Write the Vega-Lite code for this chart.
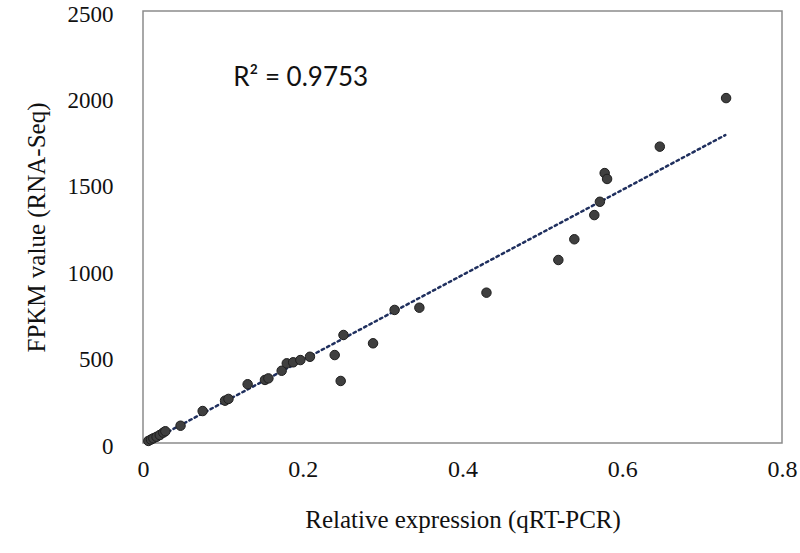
{
  "$schema": "https://vega.github.io/schema/vega-lite/v6.json",
  "width": 639,
  "height": 432,
  "autosize": "none",
  "padding": {"left": 143, "top": 11, "right": 18, "bottom": 110},
  "background": "white",
  "config": {
    "font": "Liberation Serif",
    "style": {"guide-label": {"font": "Liberation Serif"}, "guide-title": {"font": "Liberation Serif"}},
    "view": {"stroke": "#8c8c8c", "strokeWidth": 1.5},
    "axis": {"grid": false, "ticks": false, "domain": false, "labelFont": "Liberation Serif", "titleFont": "Liberation Serif"}
  },
  "datasets": {
    "pts": [
      {"x": 0.0067, "y": 12}, {"x": 0.010, "y": 20}, {"x": 0.013, "y": 27}, {"x": 0.017, "y": 36}, {"x": 0.021, "y": 46}, {"x": 0.0254, "y": 60}, {"x": 0.028, "y": 68},
      {"x": 0.047, "y": 100}, {"x": 0.0747, "y": 185}, {"x": 0.1027, "y": 245}, {"x": 0.107, "y": 255},
      {"x": 0.131, "y": 340}, {"x": 0.1527, "y": 365}, {"x": 0.157, "y": 374},
      {"x": 0.1736, "y": 418}, {"x": 0.180, "y": 461}, {"x": 0.188, "y": 467}, {"x": 0.197, "y": 480}, {"x": 0.209, "y": 499},
      {"x": 0.240, "y": 509}, {"x": 0.2475, "y": 359}, {"x": 0.251, "y": 625}, {"x": 0.288, "y": 577},
      {"x": 0.315, "y": 770}, {"x": 0.346, "y": 783}, {"x": 0.430, "y": 870},
      {"x": 0.520, "y": 1059}, {"x": 0.540, "y": 1179}, {"x": 0.565, "y": 1319}, {"x": 0.572, "y": 1396},
      {"x": 0.578, "y": 1562}, {"x": 0.581, "y": 1528}, {"x": 0.647, "y": 1715}, {"x": 0.730, "y": 1996}
    ],
    "trend": [
      {"x": 0.005, "y": 0}, {"x": 0.729, "y": 1782}
    ],
    "label": [
      {"x": 0.113, "y": 2110, "t": "R² = 0.9753"}
    ]
  },
  "layer": [
    {
      "data": {"name": "trend"},
      "mark": {"type": "line", "color": "#1f2f5e", "strokeWidth": 2.5, "strokeDash": [2.5, 3.5], "strokeCap": "round"},
      "encoding": {
        "x": {"field": "x", "type": "quantitative", "scale": {"domain": [0, 0.8], "nice": false}, "axis": {"values": [0, 0.2, 0.4, 0.6, 0.8], "format": "~g", "labelFont": "Liberation Serif", "labelFontSize": 24, "labelColor": "#111", "labelPadding": 14, "labelFlush": false, "labelBound": false, "labelOverlap": false, "title": "Relative expression (qRT-PCR)", "titleFont": "Liberation Serif", "titleFontSize": 25, "titleFontWeight": "normal", "titleColor": "#111", "titlePadding": 26}},
        "y": {"field": "y", "type": "quantitative", "scale": {"domain": [0, 2500], "nice": false}, "axis": {"values": [0, 500, 1000, 1500, 2000, 2500], "format": "d", "labelFont": "Liberation Serif", "labelFontSize": 23, "labelColor": "#111", "labelPadding": 30, "labelOffset": 3, "labelOverlap": false, "labelBound": false, "labelFlush": false, "title": "FPKM value (RNA-Seq)", "titleFont": "Liberation Serif", "titleFontSize": 25, "titleFontWeight": "normal", "titleColor": "#111", "titlePadding": 18}}
      }
    },
    {
      "data": {"name": "pts"},
      "mark": {"type": "point", "filled": true, "shape": "circle", "size": 90, "color": "#3f3f3f", "stroke": "#1e1e1e", "strokeWidth": 1, "opacity": 1},
      "encoding": {
        "x": {"field": "x", "type": "quantitative"},
        "y": {"field": "y", "type": "quantitative"}
      }
    },
    {
      "data": {"name": "label"},
      "mark": {"type": "text", "align": "left", "baseline": "middle", "font": "Lato", "fontSize": 26, "color": "#111"},
      "encoding": {
        "x": {"field": "x", "type": "quantitative"},
        "y": {"field": "y", "type": "quantitative"},
        "text": {"field": "t"}
      }
    }
  ]
}
